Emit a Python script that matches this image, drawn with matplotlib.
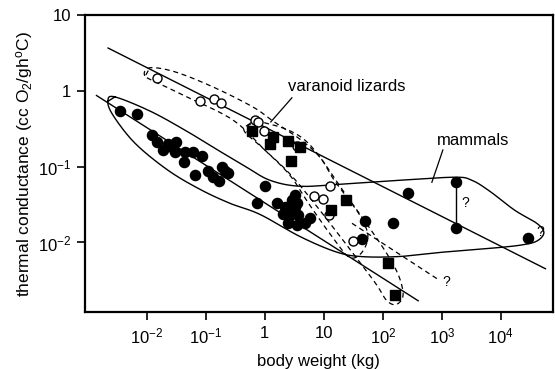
import numpy as np
import matplotlib
matplotlib.use("Agg")
import matplotlib.pyplot as plt
from matplotlib.ticker import FixedLocator, FixedFormatter, NullLocator

plt.rcParams["font.family"] = ["Liberation Sans", "DejaVu Sans"]
plt.rcParams["mathtext.fontset"] = "custom"
plt.rcParams["mathtext.rm"] = "Liberation Sans"
plt.rcParams["mathtext.it"] = "Liberation Sans:italic"

# mammals: body weight (kg), thermal conductance (cc O2/g h C)
mammal_w = [0.0035, 0.0068, 0.012, 0.015, 0.019, 0.023, 0.027, 0.031, 0.030, 0.044,
            0.042, 0.060, 0.086, 0.065, 0.108, 0.13, 0.17, 0.21, 0.19, 0.24,
            1.0, 0.73, 1.6, 3.2, 2.2, 3.2, 2.0, 2.65, 3.6, 2.45,
            3.5, 5.8, 4.8, 3.5, 2.9, 50, 148, 44, 265, 1730, 1730, 28700]
mammal_k = [0.54, 0.50, 0.26, 0.21, 0.165, 0.20, 0.18, 0.21, 0.155, 0.155,
            0.115, 0.155, 0.14, 0.077, 0.087, 0.073, 0.064, 0.087, 0.098, 0.082,
            0.055, 0.033, 0.033, 0.042, 0.029, 0.029, 0.024, 0.023, 0.023, 0.018,
            0.017, 0.021, 0.018, 0.033, 0.036, 0.019, 0.018, 0.011, 0.045, 0.062, 0.0153, 0.0113]

# varanoid lizards, open circles
lizard_open_w = [0.015, 0.079, 0.137, 0.18, 0.68, 0.76, 0.96, 3.5, 6.8, 9.6, 12.6, 12.2, 31]
lizard_open_k = [1.49, 0.74, 0.78, 0.69, 0.41, 0.39, 0.30, 0.19, 0.041, 0.038, 0.055, 0.023, 0.0106]

# varanoid lizards, filled squares
lizard_sq_w = [0.60, 1.37, 1.22, 2.45, 3.9, 2.76, 13, 23.6, 122, 160]
lizard_sq_k = [0.30, 0.25, 0.20, 0.22, 0.18, 0.12, 0.027, 0.036, 0.0053, 0.0020]

# regression lines (end points)
mammal_line_w = [0.0014, 397]
mammal_line_k = [0.87, 0.0017]
lizard_line_w = [0.0022, 57000]
lizard_line_k = [3.68, 0.0045]
extrap_w = [30, 925]
extrap_k = [0.0179, 0.00314]

# hand-drawn outlines, log10 units
mammal_outline_logw = [-2.661, -2.542, -1.949, -1.356, -0.797, -0.339, 0.085, 0.593, 1.271, 2.288,
                       3.220, 3.508, 3.814, 4.237, 4.610, 4.729, 4.627, 4.407, 3.983, 3.136,
                       2.288, 1.610, 1.186, 0.593, -0.085, -0.593, -1.102, -1.644, -2.203, -2.576]
mammal_outline_logk = [-0.132, -0.079, -0.265, -0.517, -0.781, -0.993, -1.179, -1.258, -1.232, -1.179,
                       -1.139, -1.179, -1.325, -1.576, -1.748, -1.868, -1.974, -2.026, -2.066, -2.119,
                       -2.185, -2.185, -2.119, -1.921, -1.629, -1.483, -1.298, -1.046, -0.689, -0.318]
open_outline_logw = [-2.034, -1.949, -1.525, -0.881, -0.203, 0.136, 0.593, 0.932, 1.153, 1.390,
                     1.610, 1.746, 1.644, 1.441, 1.186, 0.763, 0.424, 0.0, -0.542, -1.322, -1.780]
open_outline_logk = [0.199, 0.305, 0.252, 0.053, -0.212, -0.397, -0.636, -0.874, -1.152, -1.404,
                     -1.642, -1.907, -2.132, -2.199, -1.974, -1.510, -1.113, -0.781, -0.384, -0.079, 0.093]
sq_outline_logw = [-0.288, -0.051, 0.678, 1.356, 2.119, 2.339, 2.254, 2.068, 1.780, 0.593, 0.0, -0.339]
sq_outline_logk = [-0.450, -0.411, -0.649, -1.351, -2.212, -2.636, -2.808, -2.768, -2.437, -1.245, -0.781, -0.543]


def closed_spline(lx, ly, n=20):
    """Closed Catmull-Rom curve through the outline vertices (log space)."""
    p = np.column_stack([lx, ly])
    m = len(p)
    out = []
    t = np.linspace(0, 1, n, endpoint=False)[:, None]
    for i in range(m):
        p0, p1, p2, p3 = p[i - 1], p[i], p[(i + 1) % m], p[(i + 2) % m]
        seg = 0.5 * ((2 * p1) + (-p0 + p2) * t + (2 * p0 - 5 * p1 + 4 * p2 - p3) * t ** 2
                     + (-p0 + 3 * p1 - 3 * p2 + p3) * t ** 3)
        out.append(seg)
    out.append(p[1:2])
    out = np.vstack(out)
    return 10 ** out[:, 0], 10 ** out[:, 1]


fig = plt.figure(figsize=(5.55, 3.69), dpi=100)
ax = fig.add_axes([0.153, 0.154, 0.843, 0.805])
ax.set_xscale("log")
ax.set_yscale("log")
ax.set_xlim(10 ** -3.05, 10 ** 4.88)
ax.set_ylim(10 ** -2.92, 10 ** 1.0)

# outlines
x, y = closed_spline(mammal_outline_logw, mammal_outline_logk)
ax.plot(x, y, color="black", lw=1.0)
x, y = closed_spline(open_outline_logw, open_outline_logk)
ax.plot(x, y, color="black", lw=0.9, ls=(0, (4, 3)))
x, y = closed_spline(sq_outline_logw, sq_outline_logk)
ax.plot(x, y, color="black", lw=0.9, ls=(0, (4, 3)))

# regression lines
ax.plot(mammal_line_w, mammal_line_k, color="black", lw=1.0)
ax.plot(lizard_line_w, lizard_line_k, color="black", lw=1.0)
ax.plot(extrap_w, extrap_k, color="black", lw=0.9, ls=(0, (4, 3)))

# vertical bar joining the two uncertain large-mammal values
ax.plot([mammal_w[39], mammal_w[40]], [mammal_k[39], mammal_k[40]], color="black", lw=1.0)

# points
ax.plot(mammal_w, mammal_k, "o", ms=7.3, color="black", mec="black")
ax.plot(lizard_open_w, lizard_open_k, "o", ms=6.5, mfc="white", mec="black", mew=1.0)
ax.plot(lizard_sq_w, lizard_sq_k, "s", ms=7.2, color="black")

# labels
ax.text(2.45, 1.13, "varanoid lizards", fontsize=12, ha="left", va="center")
ax.plot([2.87, 1.26], [0.81, 0.39], color="black", lw=0.9)
ax.text(823, 0.224, "mammals", fontsize=12, ha="left", va="center")
ax.plot([1040, 677], [0.166, 0.0623], color="black", lw=0.9)
for qx, qy in [(2180, 0.033), (40700, 0.0136), (1040, 0.0030)]:
    ax.text(qx, qy, "?", fontsize=10, ha="left", va="center")

# axes
ax.xaxis.set_major_locator(FixedLocator([1e-2, 1e-1, 1, 10, 1e2, 1e3, 1e4]))
ax.xaxis.set_major_formatter(FixedFormatter(["$10^{-2}$", "$10^{-1}$", "1", "10",
                                             "$10^{2}$", "$10^{3}$", "$10^{4}$"]))
ax.yaxis.set_major_locator(FixedLocator([1e-2, 1e-1, 1, 10]))
ax.yaxis.set_major_formatter(FixedFormatter(["$10^{-2}$", "$10^{-1}$", "1", "10"]))
ax.xaxis.set_minor_locator(NullLocator())
ax.yaxis.set_minor_locator(NullLocator())
ax.tick_params(direction="out", length=6, width=1.2, labelsize=12, pad=4)
for s in ax.spines.values():
    s.set_linewidth(1.6)

ax.set_xlabel("body weight (kg)", fontsize=12, labelpad=6)
ax.set_ylabel("thermal conductance (cc O$_2$/gh$^{\\rm o}$C)", fontsize=12.5, labelpad=2)

fig.savefig("out.png", dpi=100)
